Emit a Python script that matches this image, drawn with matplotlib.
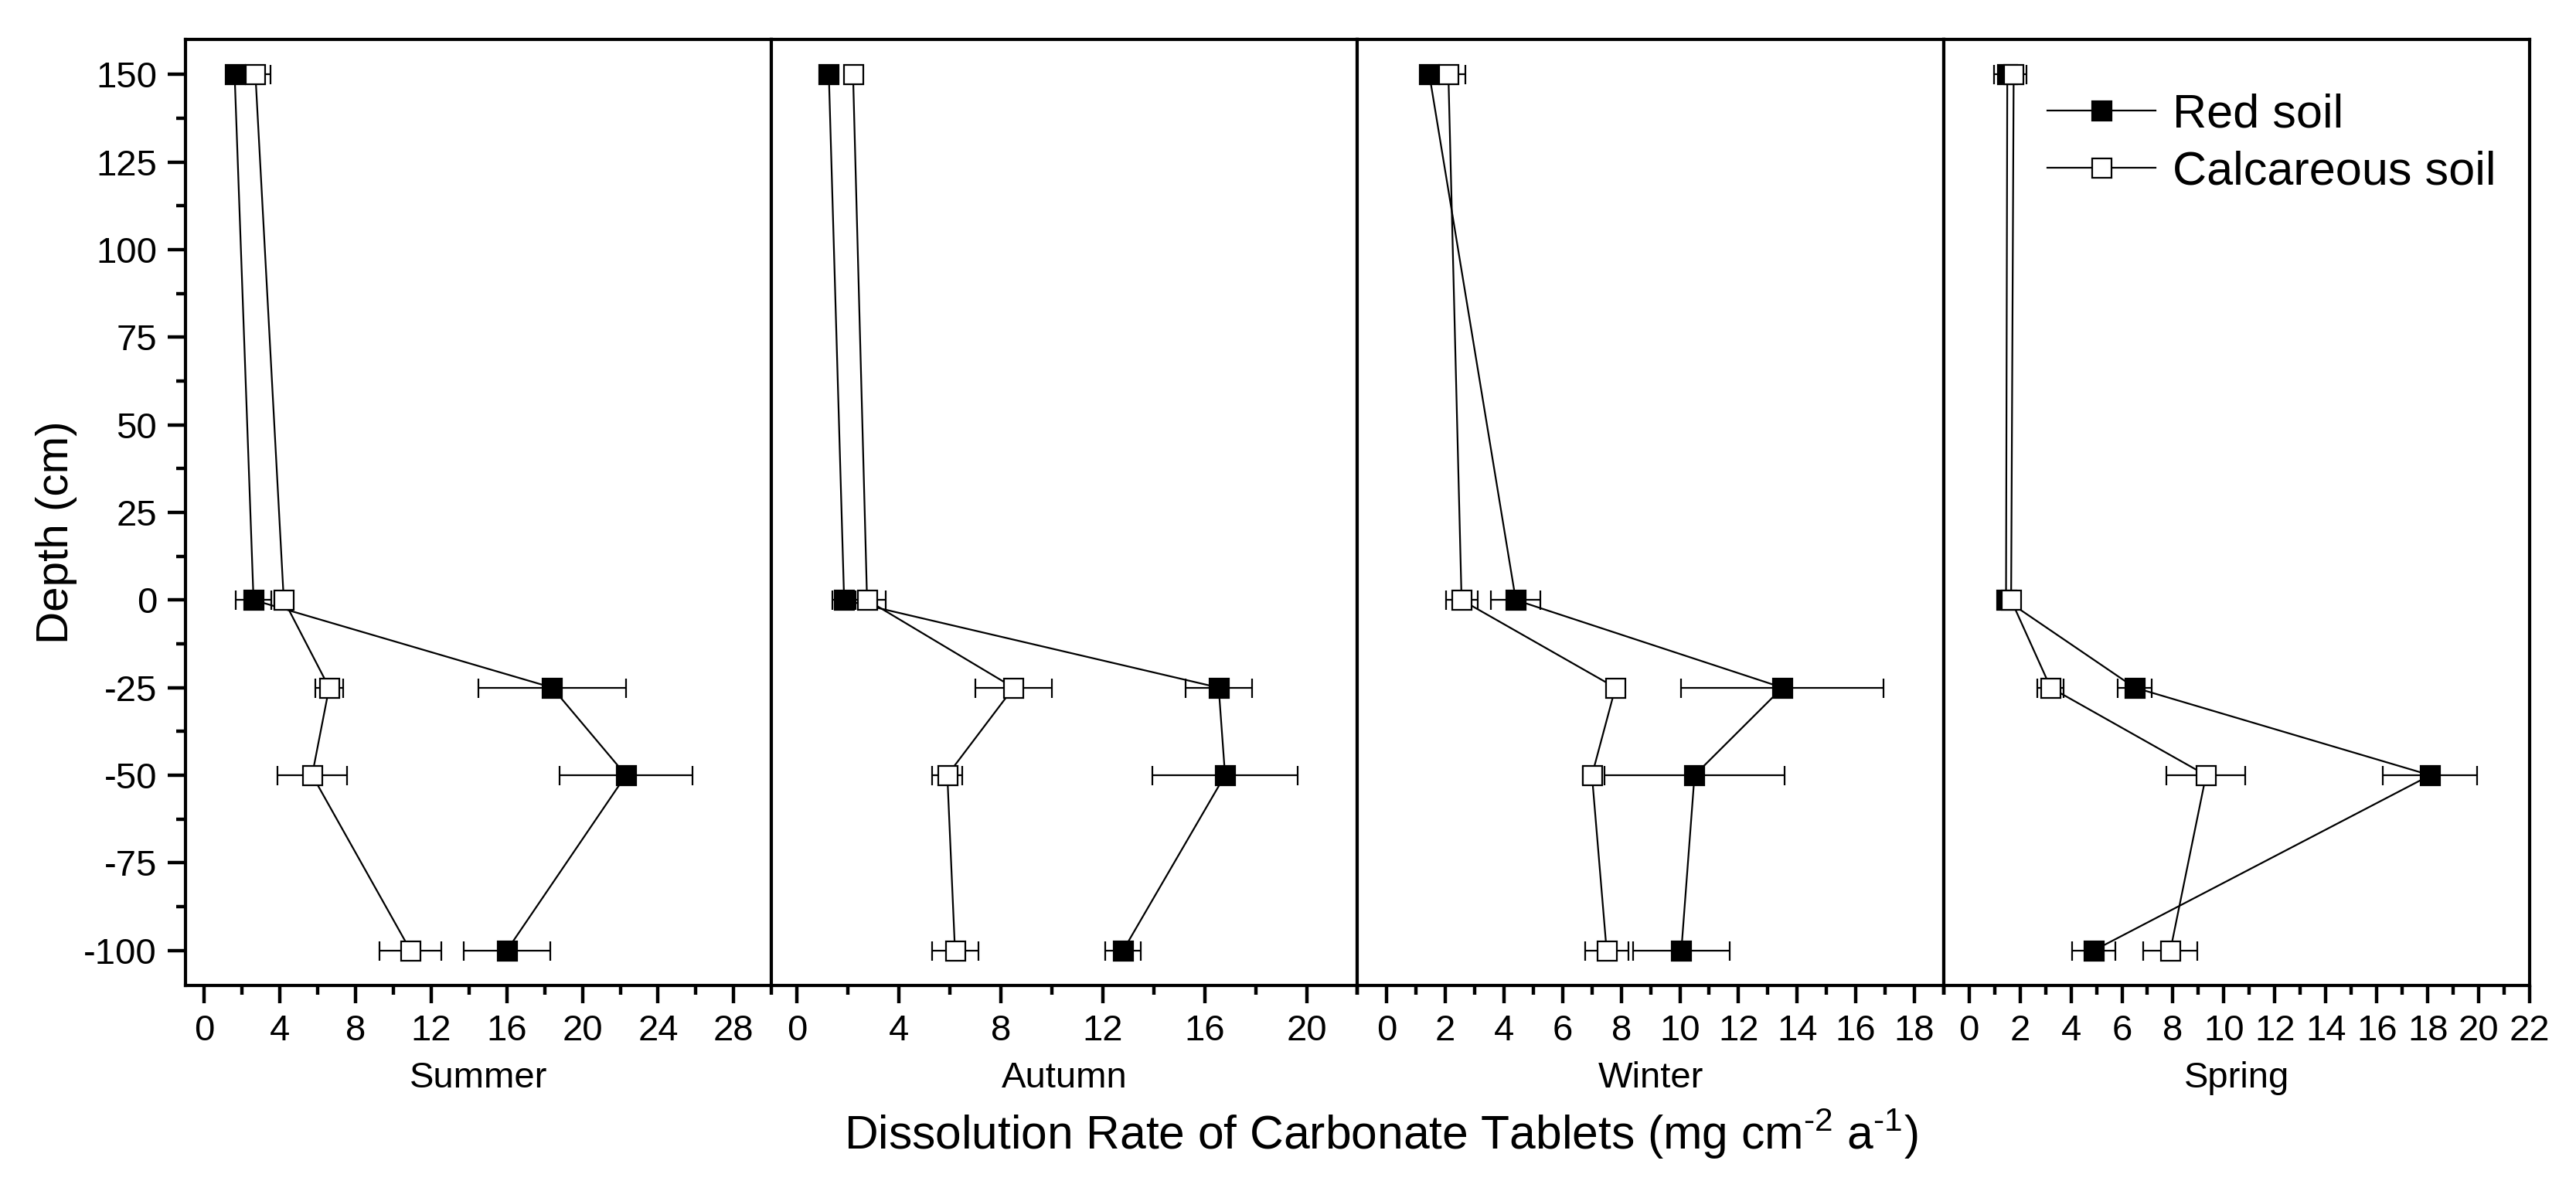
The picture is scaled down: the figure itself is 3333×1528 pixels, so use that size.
import numpy as np
import matplotlib
matplotlib.use("Agg")
import matplotlib.pyplot as plt
from matplotlib.ticker import MultipleLocator

plt.rcParams['font.family'] = ['Liberation Sans', 'DejaVu Sans']
plt.rcParams['mathtext.fontset'] = 'custom'
plt.rcParams['mathtext.rm'] = 'Liberation Sans'
plt.rcParams['axes.unicode_minus'] = False

# depth of the tablets (cm)
depth = [150, 0, -25, -50, -100]

seasons = ["Summer", "Autumn", "Winter", "Spring"]

# dissolution rate (mg cm-2 a-1)
summer_red = [1.6, 2.6, 18.4, 22.3, 16.0]
summer_red_err = [0.4, 0.95, 3.9, 3.5, 2.3]
summer_calc = [2.7, 4.2, 6.6, 5.7, 10.9]
summer_calc_err = [0.8, 0.5, 0.75, 1.85, 1.65]

autumn_red = [1.25, 1.85, 16.55, 16.8, 12.8]
autumn_red_err = [0.3, 0.46, 1.3, 2.85, 0.7]
autumn_calc = [2.2, 2.75, 8.5, 5.9, 6.2]
autumn_calc_err = [0.34, 0.72, 1.49, 0.6, 0.91]

winter_red = [1.45, 4.4, 13.5, 10.5, 10.05]
winter_red_err = [0.3, 0.84, 3.46, 3.07, 1.64]
winter_calc = [2.1, 2.55, 7.8, 7.0, 7.5]
winter_calc_err = [0.58, 0.54, 0.3, 0.31, 0.74]

spring_red = [1.5, 1.45, 6.5, 18.1, 4.9]
spring_red_err = [0.53, 0.27, 0.66, 1.85, 0.85]
spring_calc = [1.75, 1.65, 3.2, 9.3, 7.9]
spring_calc_err = [0.5, 0.3, 0.52, 1.55, 1.06]

red_vals = [summer_red, autumn_red, winter_red, spring_red]
red_errs = [summer_red_err, autumn_red_err, winter_red_err, spring_red_err]
calc_vals = [summer_calc, autumn_calc, winter_calc, spring_calc]
calc_errs = [summer_calc_err, autumn_calc_err, winter_calc_err, spring_calc_err]

xlims = [(-1, 30), (-1, 22), (-1, 19), (-1, 22)]
xmajor = [4, 4, 2, 2]
xmaxtick = [28, 20, 18, 22]

fig, axes = plt.subplots(1, 4, sharey=True, figsize=(16.665, 7.64), dpi=200)
fig.subplots_adjust(left=0.072, right=0.982, top=0.9666, bottom=0.1656, wspace=0)

for i, ax in enumerate(axes):
    red_line = ax.errorbar(red_vals[i], depth, xerr=red_errs[i], color='black', lw=0.8,
                           marker='s', ms=9, mfc='black', mec='black', mew=0.8,
                           elinewidth=0.8, capsize=4.5, capthick=0.8, zorder=3)
    calc_line = ax.errorbar(calc_vals[i], depth, xerr=calc_errs[i], color='black', lw=0.8,
                            marker='s', ms=9, mfc='white', mec='black', mew=0.8,
                            elinewidth=0.8, capsize=4.5, capthick=0.8, zorder=4)
    ax.set_xlim(xlims[i])
    ax.set_ylim(-110, 160)
    ax.set_xticks(np.arange(0, xmaxtick[i] + 0.1, xmajor[i]))
    ax.xaxis.set_minor_locator(MultipleLocator(xmajor[i] / 2))
    ax.tick_params(axis='x', which='major', direction='out', length=8.3, width=1.6,
                   labelsize=17, pad=5)
    ax.tick_params(axis='x', which='minor', direction='out', length=4.3, width=1.6)
    ax.set_xlabel(seasons[i], fontsize=17, labelpad=6)
    for sp in ax.spines.values():
        sp.set_linewidth(1.5)
    if i == 0:
        ax.set_yticks(np.arange(-100, 151, 25))
        ax.yaxis.set_minor_locator(MultipleLocator(12.5))
        ax.tick_params(axis='y', which='major', direction='out', length=8.3, width=1.6,
                       labelsize=17, pad=5)
        ax.tick_params(axis='y', which='minor', direction='out', length=4.3, width=1.6)
    else:
        ax.tick_params(axis='y', which='both', left=False, labelleft=False)

# legend handles without the error bars
leg = axes[3].legend([red_line.lines[0], calc_line.lines[0]], ["Red soil", "Calcareous soil"],
                     loc='upper right', bbox_to_anchor=(1.015, 0.988), frameon=False,
                     fontsize=22, numpoints=1, handlelength=2.3, handletextpad=0.35,
                     labelspacing=0.28)

fig.text(0.022, 0.549, "Depth (cm)", rotation=90, ha='center', va='center', fontsize=21)
fig.text(0.536, 0.04, r"Dissolution Rate of Carbonate Tablets (mg cm$^{\text{-}2}$ a$^{\text{-}1}$)",
         ha='center', va='center', fontsize=21.8)

fig.savefig("out.png", dpi=200)
